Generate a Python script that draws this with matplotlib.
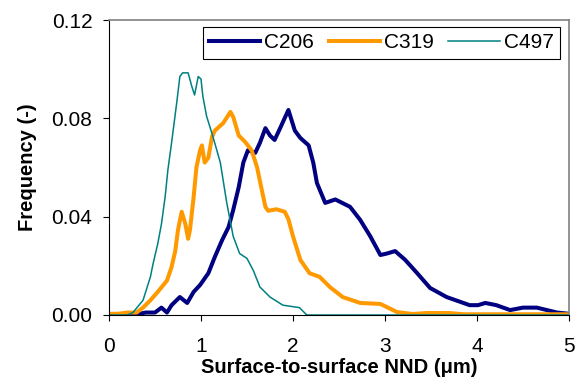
import matplotlib.pyplot as plt
from matplotlib.ticker import FormatStrFormatter

plt.rcParams['font.family'] = ['Liberation Sans', 'DejaVu Sans']

# C206
x_c206 = [0, 0.1, 0.2, 0.3, 0.4, 0.5, 0.57, 0.63, 0.68, 0.77, 0.85, 0.92, 0.99, 1.08, 1.15,
          1.23, 1.30, 1.35, 1.41, 1.46, 1.51, 1.59, 1.64, 1.70, 1.75, 1.80, 1.86, 1.95, 2.02,
          2.08, 2.17, 2.22, 2.26, 2.35, 2.46, 2.62, 2.73, 2.84, 2.95, 3.02, 3.11, 3.22, 3.35,
          3.49, 3.67, 3.92, 4.01, 4.09, 4.21, 4.36, 4.50, 4.65, 4.76, 4.87, 5.0]
y_c206 = [0, 0, 0, 0.0003, 0.001, 0.001, 0.003, 0.001, 0.004, 0.0073, 0.0049, 0.0094, 0.0122,
          0.017, 0.0236, 0.0305, 0.0358, 0.0427, 0.052, 0.062, 0.067, 0.066, 0.070, 0.076,
          0.073, 0.0712, 0.076, 0.0834, 0.075, 0.072, 0.069, 0.062, 0.0537, 0.0456, 0.047,
          0.044, 0.0387, 0.032, 0.0244, 0.025, 0.026, 0.0224, 0.017, 0.011, 0.0073, 0.004,
          0.004, 0.0049, 0.004, 0.002, 0.003, 0.003, 0.002, 0.001, 0.0005]

# C319
x_c319 = [0, 0.1, 0.2, 0.3, 0.37, 0.45, 0.53, 0.63, 0.68, 0.72, 0.75, 0.79, 0.83, 0.86, 0.88,
          0.92, 0.95, 0.99, 1.01, 1.04, 1.08, 1.12, 1.15, 1.24, 1.32, 1.35, 1.41, 1.48, 1.55,
          1.61, 1.66, 1.70, 1.73, 1.82, 1.91, 1.95, 2.0, 2.08, 2.18, 2.29, 2.40, 2.54, 2.73,
          2.95, 3.13, 3.3, 3.45, 3.7, 3.85, 4.5, 5.0]
y_c319 = [0.0005, 0.0005, 0.001, 0.001, 0.003, 0.006, 0.0094, 0.014, 0.0195, 0.026, 0.0346,
          0.042, 0.037, 0.031, 0.0346, 0.048, 0.060, 0.067, 0.069, 0.062, 0.064, 0.0725, 0.075,
          0.078, 0.0826, 0.0806, 0.073, 0.0704, 0.067, 0.060, 0.051, 0.044, 0.0424, 0.043,
          0.042, 0.039, 0.032, 0.0224, 0.017, 0.0155, 0.0114, 0.0073, 0.0049, 0.0045, 0.0012,
          0.0004, 0.0008, 0.0008, 0.0003, 0.0003, 0.0003]

# C497
x_c497 = [0, 0.2, 0.26, 0.37, 0.45, 0.48, 0.53, 0.57, 0.61, 0.64, 0.68, 0.74, 0.77, 0.80, 0.86,
          0.90, 0.93, 0.97, 1.0, 1.02, 1.06, 1.13, 1.21, 1.28, 1.35, 1.42, 1.50, 1.57, 1.64,
          1.75, 1.89, 2.07, 2.15, 2.3, 5.0]
y_c497 = [0, 0, 0.001, 0.006, 0.0155, 0.021, 0.029, 0.037, 0.048, 0.059, 0.070, 0.0875, 0.097,
          0.0985, 0.0985, 0.093, 0.0895, 0.097, 0.096, 0.089, 0.081, 0.0725, 0.062, 0.0456,
          0.032, 0.025, 0.023, 0.018, 0.0114, 0.0073, 0.004, 0.003, 0.0, 0, 0]

fig = plt.figure(figsize=(5.81, 3.80), dpi=100)
ax = fig.add_axes([109 / 581, 65 / 380, 460 / 581, 295 / 380])

ax.plot(x_c206, y_c206, color="#000080", lw=2.9, label="C206", solid_joinstyle="round")
ax.plot(x_c319, y_c319, color="#FF9900", lw=2.9, label="C319", solid_joinstyle="round")
ax.plot(x_c497, y_c497, color="#008080", lw=1.1, label="C497", solid_joinstyle="round")

ax.set_xlim(0, 5)
ax.set_ylim(0, 0.12)
ax.set_xticks([0, 1, 2, 3, 4, 5])
ax.set_yticks([0, 0.04, 0.08, 0.12])
ax.yaxis.set_major_formatter(FormatStrFormatter("%.2f"))

ax.tick_params(axis="x", direction="out", length=4, width=0.8, labelsize=15, pad=12)
ax.tick_params(axis="y", direction="out", length=4, width=0.8, labelsize=15, pad=8)

for s in ["left", "bottom"]:
    ax.spines[s].set_color("black")
    ax.spines[s].set_linewidth(0.8)
for s in ["top", "right"]:
    ax.spines[s].set_color("#808080")
    ax.spines[s].set_linewidth(1.2)

ax.set_xlabel("Surface-to-surface NND (μm)", fontsize=14.5, fontweight="bold", labelpad=1)
ax.set_ylabel("Frequency (-)", fontsize=14.5, fontweight="bold", labelpad=10)

leg = ax.legend(loc="upper right", bbox_to_anchor=(0.98, 0.976), ncol=3, fontsize=15,
                fancybox=False, edgecolor="black", framealpha=1, borderaxespad=0,
                handlelength=2.45, handletextpad=0.2, columnspacing=0.7, borderpad=0.3)
leg.get_frame().set_linewidth(0.8)

plt.savefig("out.png", dpi=100)
